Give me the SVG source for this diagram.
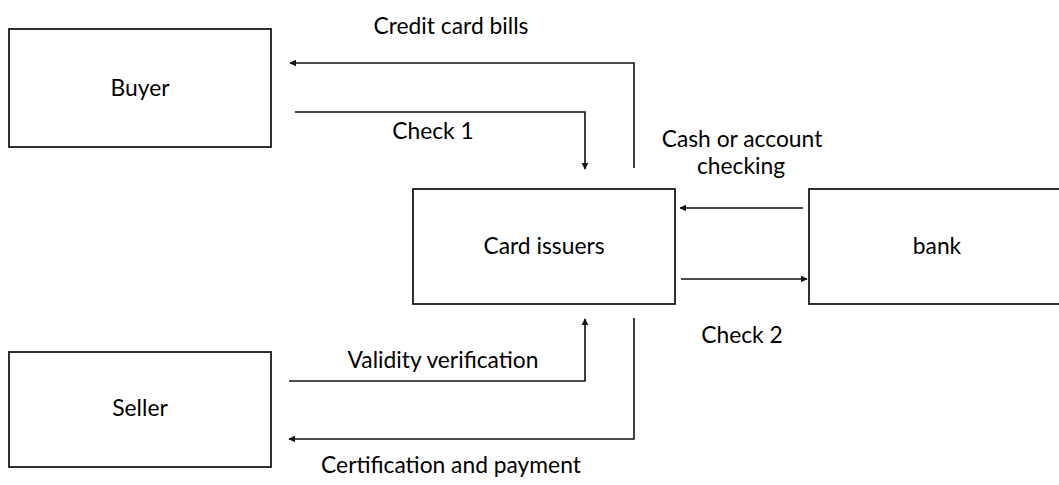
<svg xmlns="http://www.w3.org/2000/svg" width="1059" height="485" viewBox="0 0 1059 485">
  <style>
    .box { fill: #ffffff; stroke: #1a1a1a; stroke-width: 1.8; }
    .lbl { font-family: Lato, "Liberation Sans", sans-serif; font-size: 22.8px; fill: #000000; text-anchor: middle; }
    .edge { fill: none; stroke: #111111; stroke-width: 1.6; }
  </style>
  <defs>
    <marker id="arrow" viewBox="0 0 10 10" refX="9" refY="5" markerWidth="7" markerHeight="7" markerUnits="userSpaceOnUse" orient="auto">
      <path d="M0,0 L10,5 L0,10 z" fill="#111111"/>
    </marker>
  </defs>
  <rect width="1059" height="485" fill="#ffffff"/>

  <g id="buyer">
    <rect class="box" x="9" y="29" width="262" height="118"/>
    <text class="lbl" x="140" y="96">Buyer</text>
  </g>
  <g id="seller">
    <rect class="box" x="9" y="352" width="262" height="115"/>
    <text class="lbl" x="140" y="416">Seller</text>
  </g>
  <g id="card-issuers">
    <rect class="box" x="413" y="189" width="262" height="115"/>
    <text class="lbl" x="544" y="254">Card issuers</text>
  </g>
  <g id="bank">
    <rect class="box" x="809" y="189" width="262" height="115"/>
    <text class="lbl" x="937" y="254">bank</text>
  </g>

  <g id="connectors">
    <!-- card issuers -> buyer -->
    <path class="edge" d="M634,168 V63 H290" marker-end="url(#arrow)"/>
    <text class="lbl" x="451" y="34">Credit card bills</text>
    <!-- buyer -> card issuers -->
    <path class="edge" d="M295,112 H585 V169" marker-end="url(#arrow)"/>
    <text class="lbl" x="433" y="139">Check 1</text>
    <!-- bank -> card issuers -->
    <path class="edge" d="M803,208 H680" marker-end="url(#arrow)"/>
    <text class="lbl" x="742" y="147">Cash or account</text>
    <text class="lbl" x="741" y="174">checking</text>
    <!-- card issuers -> bank -->
    <path class="edge" d="M681,279 H807" marker-end="url(#arrow)"/>
    <text class="lbl" x="742" y="343">Check 2</text>
    <!-- seller -> card issuers -->
    <path class="edge" d="M289,381 H585 V319" marker-end="url(#arrow)"/>
    <text class="lbl" x="443" y="368">Validity verification</text>
    <!-- card issuers -> seller -->
    <path class="edge" d="M634,318 V439 H289" marker-end="url(#arrow)"/>
    <text class="lbl" x="451" y="473">Certification and payment</text>
  </g>
</svg>
